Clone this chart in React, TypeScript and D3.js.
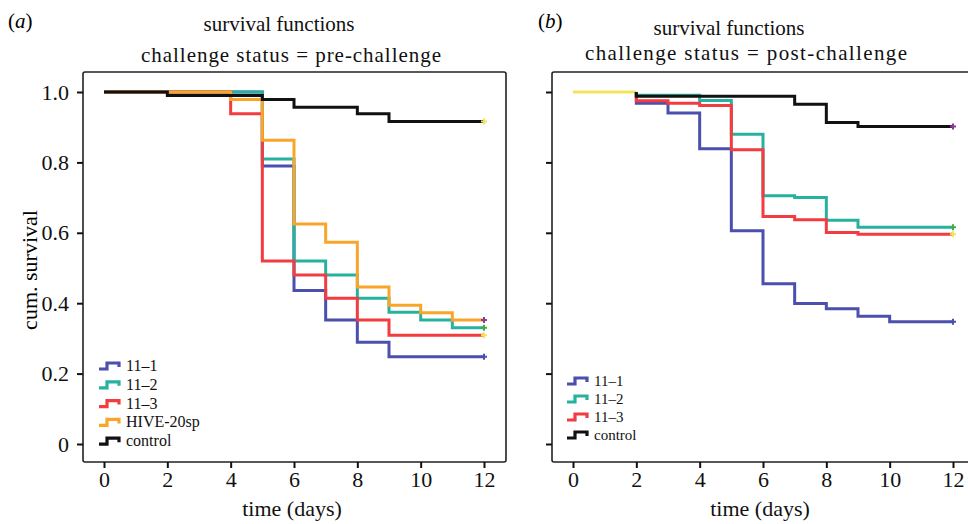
import React, { useEffect, useRef } from 'react'
import * as d3 from 'd3'

// tick values
const xTicks = [0, 2, 4, 6, 8, 10, 12]
const yTicks = [0, 0.2, 0.4, 0.6, 0.8, 1.0]

// (a) pre-challenge, step change points (day, cum. survival)
const preNames = ['11–1', '11–2', '11–3', 'HIVE-20sp', 'control']
const preTimes = [
  [0, 5, 6, 7, 8, 9],
  [0, 5, 6, 7, 8, 9, 10, 11],
  [0, 4, 5, 6, 7, 8, 9],
  [0, 4, 5, 6, 7, 8, 9, 10, 11],
  [0, 2, 5, 6, 8, 9],
]
const preSurv = [
  [1, 0.79, 0.436, 0.352, 0.289, 0.248],
  [1, 0.81, 0.52, 0.48, 0.414, 0.374, 0.352, 0.33],
  [1, 0.938, 0.52, 0.48, 0.414, 0.352, 0.309],
  [1, 0.979, 0.863, 0.625, 0.573, 0.446, 0.394, 0.373, 0.352],
  [1, 0.99, 0.979, 0.957, 0.938, 0.916],
]
const preColors = ['#4b4fad', '#27b2a0', '#f23c40', '#f9a52a', '#111111']
const preCensor = ['#4b4fad', '#3fae4a', '#f2e55c', '#8b3a9a', '#f2e55c']

// (b) post-challenge
const postNames = ['11–1', '11–2', '11–3', 'control']
const postTimes = [
  [2, 2, 3, 4, 5, 6, 7, 8, 9, 10],
  [2, 2, 4, 5, 6, 7, 8, 9],
  [2, 2, 3, 4, 5, 6, 7, 8, 9],
  [2, 2, 7, 8, 9],
]
const postSurv = [
  [1, 0.968, 0.94, 0.839, 0.606, 0.455, 0.399, 0.384, 0.363, 0.347],
  [1, 0.991, 0.976, 0.88, 0.705, 0.7, 0.636, 0.616],
  [1, 0.975, 0.968, 0.962, 0.836, 0.646, 0.637, 0.601, 0.596],
  [1, 0.988, 0.965, 0.913, 0.902],
]
const postColors = ['#4b4fad', '#27b2a0', '#f23c40', '#111111']
const postCensor = ['#4b4fad', '#3fae4a', '#f2e55c', '#8b3a9a']
// yellow lead-in before day 2
const leadTimes = [0, 2]
const leadSurv = [1, 1]

const FONT = "'Liberation Serif', 'Times New Roman', serif"

const App = () => {
  const svgRef = useRef(null)

  useEffect(() => {
    const svg = d3.select(svgRef.current)
    svg.selectAll('*').remove()

    const y = d3.scaleLinear().domain([0, 1]).range([444, 92])
    const boxTop = 72
    const boxBottom = 462

    const label = (g, str, x, yy, size, len) => {
      const t = g
        .append('text')
        .text(str)
        .attr('x', x)
        .attr('y', yy)
        .attr('text-anchor', 'middle')
        .style('font-family', FONT)
        .style('font-size', size + 'px')
        .attr('fill', '#111')
      if (len) t.attr('textLength', len).attr('lengthAdjust', 'spacing')
      return t
    }

    const panel = (opts) => {
      const x = d3.scaleLinear().domain([0, 12]).range([opts.x0, opts.x12])
      const g = svg.append('g')

      // frame
      g.append('rect')
        .attr('x', opts.left)
        .attr('y', boxTop)
        .attr('width', opts.right - opts.left)
        .attr('height', boxBottom - boxTop)
        .attr('fill', 'none')
        .attr('stroke', '#222')
        .attr('stroke-width', 1.6)
        .attr('rx', 2)

      // axes
      const ya = g
        .append('g')
        .attr('transform', `translate(${opts.left},0)`)
        .call(
          d3
            .axisLeft(y)
            .tickValues(yTicks)
            .tickSize(6)
            .tickPadding(8)
            .tickFormat(opts.yLabels ? (d) => (d === 0 ? '0' : d3.format('.1f')(d)) : () => '')
        )
      ya.select('.domain').remove()

      const xa = g
        .append('g')
        .attr('transform', `translate(0,${boxBottom})`)
        .call(d3.axisBottom(x).tickValues(xTicks).tickSize(6).tickPadding(3))
      xa.select('.domain').remove()

      g.selectAll('.tick line').attr('stroke', '#111').attr('stroke-width', 2)
      g.selectAll('.tick text')
        .style('font-family', FONT)
        .style('font-size', '22px')
        .attr('fill', '#111')

      // lines
      const line = d3
        .line()
        .x((d) => x(d[0]))
        .y((d) => y(d[1]))
        .curve(d3.curveStepAfter)

      if (opts.lead) {
        const pts = opts.lead[0].map((t, i) => [t, opts.lead[1][i]])
        g.append('path')
          .attr('d', line(pts))
          .attr('fill', 'none')
          .attr('stroke', '#f2e55c')
          .attr('stroke-width', 3)
      }

      opts.times.forEach((ts, k) => {
        const pts = ts.map((t, i) => [t, opts.surv[k][i]])
        pts.push([12, opts.surv[k][opts.surv[k].length - 1]])
        g.append('path')
          .attr('d', line(pts))
          .attr('fill', 'none')
          .attr('stroke', opts.colors[k])
          .attr('stroke-width', 3)
      })

      // censor marks at the end
      opts.times.forEach((ts, k) => {
        const last = opts.surv[k][opts.surv[k].length - 1]
        const cx = x(12)
        const cy = y(last)
        g.append('path')
          .attr('d', `M${cx - 3},${cy}H${cx + 3}M${cx},${cy - 3}V${cy + 3}`)
          .attr('stroke', opts.censor[k])
          .attr('stroke-width', 2)
      })

      // legend
      const leg = g
        .selectAll('.legend')
        .data(opts.names)
        .enter()
        .append('g')
        .attr('class', 'legend')
        .attr('transform', (d, i) => `translate(${opts.legX},${opts.legY + i * opts.legStep})`)

      leg
        .append('path')
        .attr('d', 'M0,3 H8 V-3 H20 V1')
        .attr('fill', 'none')
        .attr('stroke', (d, i) => opts.colors[i])
        .attr('stroke-width', 3.2)

      leg
        .append('text')
        .text((d) => d)
        .attr('x', 27)
        .attr('y', 5)
        .style('font-family', FONT)
        .style('font-size', opts.legSize + 'px')
        .attr('fill', '#111')

      // titles
      label(g, 'survival functions', opts.titleX, opts.t1, 21)
      label(g, opts.sub, opts.subX, opts.t2, 21, opts.t2Len)

      const tag = g
        .append('text')
        .attr('x', opts.tagX)
        .attr('y', 28)
        .style('font-family', FONT)
        .style('font-size', '21px')
      tag.append('tspan').text('(')
      tag.append('tspan').text(opts.tag).style('font-style', 'italic')
      tag.append('tspan').text(')')

      label(g, 'time (days)', opts.xLabelX, 516, 22)
    }

    panel({
      left: 83,
      right: 506,
      x0: 104,
      x12: 484,
      yLabels: true,
      times: preTimes,
      surv: preSurv,
      colors: preColors,
      censor: preCensor,
      names: preNames,
      legX: 99,
      legY: 366,
      legStep: 18.8,
      legSize: 16,
      titleX: 279,
      subX: 291,
      t1: 31,
      t2: 62,
      t2Len: 300,
      sub: 'challenge status = pre-challenge',
      tag: 'a',
      tagX: 8,
      xLabelX: 292,
    })

    panel({
      left: 552,
      right: 975,
      x0: 573,
      x12: 953,
      yLabels: false,
      lead: [leadTimes, leadSurv],
      times: postTimes,
      surv: postSurv,
      colors: postColors,
      censor: postCensor,
      names: postNames,
      legX: 567,
      legY: 381,
      legStep: 18,
      legSize: 15,
      titleX: 729,
      subX: 746,
      t1: 35,
      t2: 60,
      t2Len: 322,
      sub: 'challenge status = post-challenge',
      tag: 'b',
      tagX: 538,
      xLabelX: 760,
    })

    // y axis label
    svg
      .append('text')
      .text('cum. survival')
      .attr('transform', 'rotate(-90)')
      .attr('x', -270)
      .attr('y', 37)
      .attr('text-anchor', 'middle')
      .style('font-family', FONT)
      .style('font-size', '22px')
  }, [])

  return (
    <div style={{ position: 'absolute', left: 0, top: 0 }}>
      <svg ref={svgRef} width={968} height={524} style={{ display: 'block', background: '#fff' }}></svg>
    </div>
  )
}

export default App
